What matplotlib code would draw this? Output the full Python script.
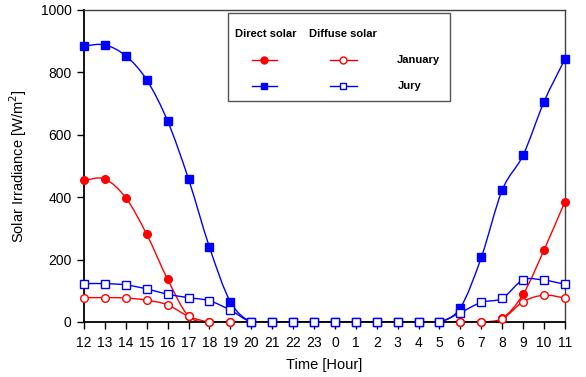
import numpy as np
import matplotlib.pyplot as plt
from matplotlib.path import Path
from matplotlib.patches import PathPatch, Rectangle
from matplotlib.lines import Line2D

plt.rcParams['font.family'] = ['Liberation Sans', 'DejaVu Sans']

# hourly irradiance, day starting at noon
hours = [12, 13, 14, 15, 16, 17, 18, 19, 20, 21, 22, 23,
         0, 1, 2, 3, 4, 5, 6, 7, 8, 9, 10, 11]
jan_direct = [455, 458, 398, 281, 137, 19, 0, 0, 0, 0, 0, 0,
              0, 0, 0, 0, 0, 0, 0, 0, 12, 89, 231, 386]
jan_diffuse = [78, 78, 77, 70, 55, 18, 0, 0, 0, 0, 0, 0,
               0, 0, 0, 0, 0, 0, 0, 0, 10, 65, 86, 77]
jul_direct = [885, 888, 853, 776, 644, 458, 240, 65, 0, 0, 0, 0,
              0, 0, 0, 0, 0, 0, 46, 207, 423, 535, 706, 843]
jul_diffuse = [123, 123, 119, 106, 89, 78, 68, 38, 0, 0, 0, 0,
               0, 0, 0, 0, 0, 0, 30, 63, 76, 135, 134, 121]

RED = '#ff0000'
BLUE = '#0000ff'


def smooth_path(x, y):
    # cardinal spline through the points, as cubic bezier segments
    p = np.column_stack([x, y]).astype(float)
    m = np.zeros_like(p)
    m[1:-1] = (p[2:] - p[:-2]) / 2
    m[0] = p[1] - p[0]
    m[-1] = p[-1] - p[-2]
    verts = [p[0]]
    codes = [Path.MOVETO]
    for i in range(len(p) - 1):
        verts += [p[i] + m[i] / 3, p[i + 1] - m[i + 1] / 3, p[i + 1]]
        codes += [Path.CURVE4] * 3
    return Path(verts, codes)


fig = plt.figure(figsize=(5.86, 3.77), dpi=100)
ax = fig.add_axes([0.1433, 0.1459, 0.8208, 0.8276])

x = np.arange(len(hours))
series = [
    (jan_direct, RED, 'o', RED),
    (jan_diffuse, RED, 'o', 'white'),
    (jul_direct, BLUE, 's', BLUE),
    (jul_diffuse, BLUE, 's', 'white'),
]
for vals, col, mk, fc in series:
    ax.add_patch(PathPatch(smooth_path(x, vals), facecolor='none',
                           edgecolor=col, lw=1.0, zorder=2))
for vals, col, mk, fc in series:
    ax.plot(x, vals, ls='none', marker=mk, ms=5.5,
            mfc=fc, mec=col, mew=1.0, zorder=3, clip_on=False)

ax.set_xlim(0, len(hours) - 1)
ax.set_ylim(0, 1000)
ax.set_xticks(x)
ax.set_xticklabels([str(h) for h in hours])
ax.set_yticks(np.arange(0, 1001, 200))
ax.tick_params(direction='out', length=5, width=1, labelsize=10,
               colors='black', pad=4)
ax.tick_params(axis='x', pad=5)

for s in ['left', 'bottom']:
    ax.spines[s].set_linewidth(1.3)
    ax.spines[s].set_color('black')
for s in ['top', 'right']:
    ax.spines[s].set_linewidth(1.0)
    ax.spines[s].set_color('#404040')

ax.set_xlabel('Time [Hour]', fontsize=10.5, labelpad=6)
ax.set_ylabel('Solar Irradiance [W/m$^2$]', fontsize=10.5, labelpad=8)

# legend table
ax.add_patch(Rectangle((0.299, 0.708), 0.462, 0.282, transform=ax.transAxes,
                       facecolor='white', edgecolor='#555555', lw=1.0, zorder=5))
tkw = dict(transform=ax.transAxes, fontsize=8, fontweight='bold',
           va='center', ha='left', zorder=6)
ax.text(0.314, 0.923, 'Direct solar', **tkw)
ax.text(0.468, 0.923, 'Diffuse solar', **tkw)
ax.text(0.651, 0.840, 'January', **tkw)
ax.text(0.653, 0.756, 'Jury', **tkw)
rows = [(0.840, RED, 'o'), (0.756, BLUE, 's')]
for yy, col, mk in rows:
    for x0, x1, fc in [(0.349, 0.401, col), (0.511, 0.568, 'white')]:
        ax.add_line(Line2D([x0, x1], [yy, yy], transform=ax.transAxes,
                           color=col, lw=1.0, zorder=6))
        ax.add_line(Line2D([(x0 + x1) / 2], [yy], transform=ax.transAxes,
                           marker=mk, ms=5, mfc=fc, mec=col, mew=1.0,
                           ls='none', zorder=7))

fig.savefig('out.png', dpi=100)
